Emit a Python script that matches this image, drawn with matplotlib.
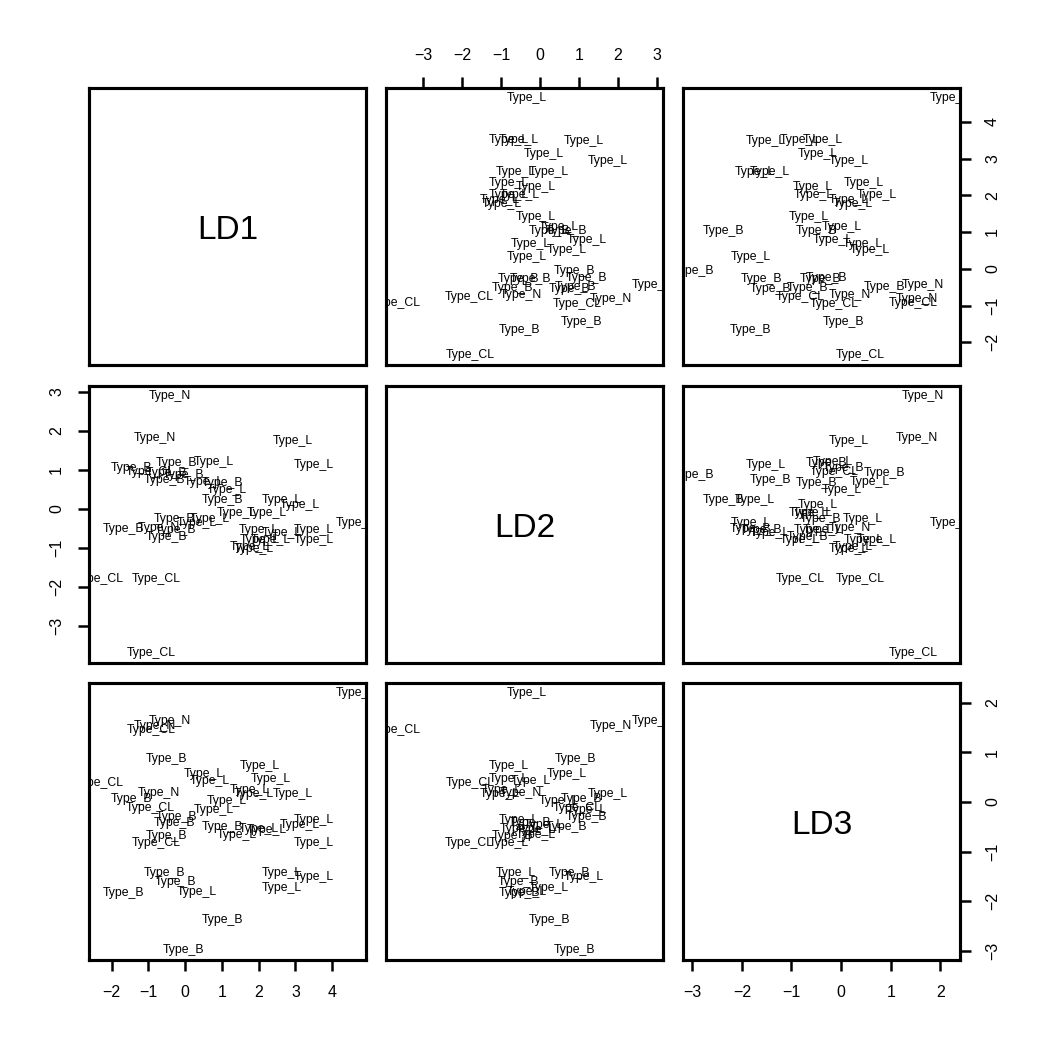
import matplotlib
matplotlib.use("Agg")
import matplotlib.pyplot as plt
from matplotlib import transforms

plt.rcParams['font.family'] = ['Liberation Sans', 'DejaVu Sans']

# LDA scores
groups = ["Type_N", "Type_N", "Type_L", "Type_L", "Type_L", "Type_B", "Type_B", "Type_CL",
          "Type_B", "Type_B", "Type_L", "Type_B", "Type_L", "Type_B", "Type_L", "Type_L",
          "Type_L", "Type_L", "Type_L", "Type_B", "Type_B", "Type_B", "Type_N", "Type_B",
          "Type_L", "Type_L", "Type_L", "Type_L", "Type_L", "Type_L", "Type_L", "Type_L",
          "Type_L", "Type_CL", "Type_CL", "Type_CL", "Type_L", "Type_B"]
ld1 = [-0.43, -0.82, 2.93, 3.49, 0.78, -0.25, -1.45, -0.95,
       -0.05, -0.56, 0.50, 1.02, 1.14, 1.02, 2.63, 3.11,
       1.40, 2.23, 4.64, -0.29, -0.27, -1.67, -0.71, -0.52,
       0.68, 2.00, 2.62, 3.51, 3.50, 2.02, 2.33, 1.75,
       1.88, -2.34, -0.78, -0.92, 0.31, -0.50]
ld2 = [2.89, 1.82, 1.74, 1.12, 1.21, 1.18, 1.05, 0.95,
       0.88, 0.75, 0.69, 0.67, 0.48, 0.24, 0.22, 0.09,
       -0.10, -0.10, -0.35, -0.25, -0.55, -0.52, -0.50, -0.72,
       -0.25, -0.53, -0.62, -0.55, -0.80, -0.80, -0.79, -0.97,
       -1.03, -1.80, -1.81, -3.69, -0.35, 0.92]
ld3 = [1.64, 1.52, 0.16, -1.52, -0.16, -0.30, 0.05, -0.13,
       -2.98, -1.43, 0.57, -0.50, 0.01, -2.38, -1.74, -0.46,
       -0.66, -0.56, 2.19, -0.42, -1.61, -1.83, 0.18, -0.68,
       0.43, -0.55, -1.44, -0.36, -0.83, 0.73, 0.46, 0.24,
       0.16, 0.38, -0.83, 1.45, -1.81, 0.87]
var_names = ["LD1", "LD2", "LD3"]
tick_sets = [list(range(-2, 5)), list(range(-3, 4)), list(range(-3, 3))]

data = [ld1, ld2, ld3]


def padded(v):
    # R style 4% range extension
    lo, hi = min(v), max(v)
    d = (hi - lo) * 0.04
    return lo - d, hi + d


W = 1050
fig = plt.figure(figsize=(7, 7), dpi=150)
lefts = [89, 386, 683]
tops = [88, 386, 683]
size = 277

for i in range(3):
    for j in range(3):
        ax = fig.add_axes([lefts[j] / W, 1 - (tops[i] + size) / W, size / W, size / W])
        for s in ax.spines.values():
            s.set_linewidth(1.5)
        ax.tick_params(axis='both', which='both', bottom=False, top=False, left=False, right=False,
                       labelbottom=False, labeltop=False, labelleft=False, labelright=False,
                       direction='out', length=5.2, width=1.2, labelsize=7.7, pad=6.8)
        ax.set_xticks(tick_sets[j])
        ax.set_yticks(tick_sets[i])
        ax.set_xlim(padded(data[j]))
        ax.set_ylim(padded(data[i]))

        if i == 2 and j % 2 == 0:
            ax.tick_params(axis='x', bottom=True, labelbottom=True)
        if i == 0 and j % 2 == 1:
            ax.tick_params(axis='x', top=True, labeltop=True)
        if j == 0 and i % 2 == 1:
            ax.tick_params(axis='y', left=True, labelleft=True)
            for t in ax.get_yticklabels():
                t.set_rotation(90)
                t.set_va('center')
        if j == 2 and i % 2 == 0:
            ax.tick_params(axis='y', right=True, labelright=True)
            for t in ax.get_yticklabels():
                t.set_rotation(90)
                t.set_va('center')

        if i == j:
            tr = transforms.offset_copy(ax.transAxes, fig=fig, y=-6.0, units='points')
            ax.text(0.5, 0.5, var_names[i], transform=tr,
                    ha='center', va='baseline', fontsize=16)
            continue

        for g, xv, yv in zip(groups, data[j], data[i]):
            ax.text(xv, yv, g, ha='center', va='center', fontsize=5.9, clip_on=True)

fig.savefig("out.png", dpi=150)
